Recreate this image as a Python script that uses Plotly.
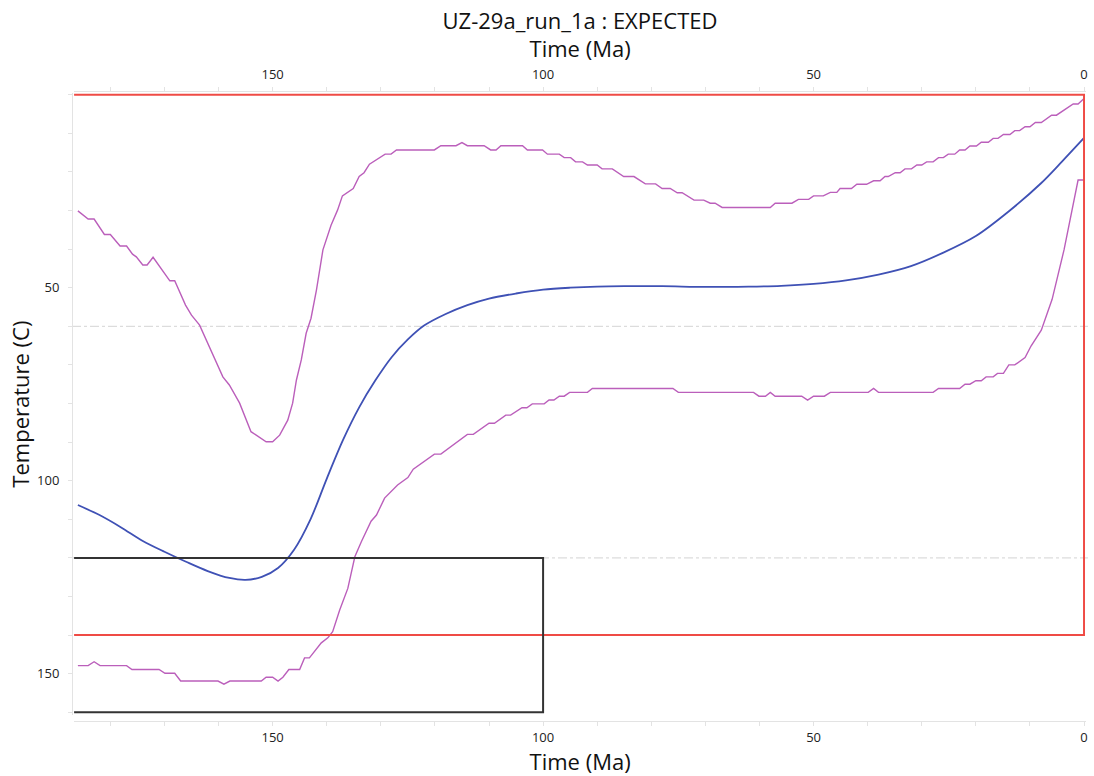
import plotly.graph_objects as go

# ---------------- data ----------------
time_expected = [186, 182, 178, 174, 170, 166, 162, 158, 155, 152,
                 149, 146, 143, 140, 137, 134, 131, 128, 125, 122,
                 118, 114, 110, 105, 100, 95, 90, 85, 78, 70,
                 62, 56, 50, 44, 38, 32, 26, 20, 14, 8, 4, 0]
temp_expected = [106.3, 108.9, 112.1, 115.6, 118.4, 121.0, 123.4, 125.2, 125.7, 124.9,
                 122.6, 117.8, 110.0, 99.5, 89.5, 81.0, 74.0, 68.0, 63.4, 59.8,
                 56.8, 54.5, 52.8, 51.5, 50.5, 50.0, 49.7, 49.6, 49.6, 49.8,
                 49.7, 49.5, 49.0, 48.1, 46.6, 44.4, 40.9, 36.6, 30.3, 23.0, 17.2, 11.2]

time_upper = [186.0, 184.1, 183.0, 181.1, 180.0, 178.9, 178.2, 177.0, 175.9, 175.2,
              174.0, 173.2, 172.1, 169.0, 168.1, 166.1, 165.0, 163.5, 159.2, 158.0,
              156.1, 154.0, 151.2, 150.0, 148.7, 147.2, 146.3, 145.6, 144.7, 143.8,
              142.9, 141.9, 140.7, 139.2, 138.0, 137.1, 135.1, 134.0, 133.1, 132.1,
              129.2, 128.1, 127.1, 120.1, 118.9, 116.1, 115.0, 114.0, 110.9, 109.7,
              108.7, 107.8, 103.8, 102.9, 100.1, 99.2, 97.0, 96.1, 94.9, 94.0,
              92.7, 91.8, 90.0, 89.1, 87.2, 85.1, 83.2, 81.1, 79.2, 78.0,
              76.5, 75.2, 74.3, 72.1, 70.3, 69.1, 68.2, 66.9, 58.0, 57.1,
              54.0, 52.8, 50.9, 50.0, 48.2, 46.9, 45.7, 45.1, 43.0, 42.0,
              40.2, 38.9, 37.7, 36.8, 36.2, 34.9, 34.0, 33.1, 31.9, 30.9,
              30.0, 29.1, 27.9, 26.9, 26.0, 25.1, 23.9, 23.0, 22.0, 21.1,
              19.9, 19.0, 17.7, 16.8, 15.9, 14.9, 13.7, 12.8, 11.9, 10.9,
              10.0, 9.0, 7.9, 6.0, 5.1, 2.0, 1.1, 0.0]
temp_upper = [30.1, 32.2, 32.2, 36.2, 36.2, 38.2, 39.2, 39.2, 41.3, 42.0,
              44.1, 44.1, 42.1, 48.2, 48.2, 54.5, 57.1, 59.7, 73.1, 75.2,
              79.9, 87.3, 89.9, 89.9, 88.2, 84.3, 79.9, 73.9, 68.7, 61.8,
              57.9, 50.6, 40.2, 33.8, 29.9, 26.2, 24.3, 21.2, 20.2, 18.0,
              15.4, 15.4, 14.3, 14.3, 13.2, 13.2, 12.4, 13.2, 13.2, 14.3,
              14.3, 13.2, 13.2, 14.3, 14.3, 15.4, 15.4, 16.3, 16.3, 17.4,
              17.4, 18.2, 18.2, 19.2, 19.2, 21.2, 21.2, 23.1, 23.1, 24.3,
              24.3, 25.4, 25.4, 27.3, 27.3, 28.1, 28.1, 29.2, 29.2, 28.1,
              28.1, 27.1, 27.1, 26.2, 26.2, 25.3, 25.3, 24.3, 24.3, 23.2,
              23.2, 22.3, 22.3, 21.2, 21.2, 20.2, 20.2, 19.2, 19.2, 18.2,
              18.2, 17.4, 17.4, 16.3, 16.3, 15.4, 15.4, 14.3, 14.3, 13.3,
              13.3, 12.3, 12.3, 11.3, 11.3, 10.3, 10.3, 9.3, 9.3, 8.3,
              8.3, 7.2, 7.2, 5.3, 5.3, 2.4, 2.4, 1.0]

time_lower = [186.0, 184.1, 183.0, 181.9, 177.0, 176.0, 171.0, 169.9, 168.1, 167.0,
              160.1, 159.0, 157.9, 152.1, 151.2, 150.0, 149.0, 148.1, 147.0, 145.0,
              144.1, 143.2, 141.0, 139.8, 138.9, 137.6, 136.1, 134.8, 133.6, 131.8,
              130.8, 129.3, 126.9, 125.0, 124.0, 120.1, 118.9, 114.0, 112.9, 110.0,
              109.0, 106.9, 106.0, 103.9, 103.0, 102.0, 99.8, 98.9, 98.0, 97.0,
              96.1, 95.1, 91.8, 90.9, 76.0, 75.0, 61.1, 60.1, 58.9, 58.0,
              57.1, 52.2, 51.1, 50.0, 48.0, 46.9, 39.9, 38.9, 38.0, 27.9,
              26.9, 23.0, 22.0, 21.1, 20.0, 19.0, 18.1, 16.8, 16.0, 14.9,
              13.9, 12.8, 10.9, 9.8, 7.9, 5.9, 3.7, 1.1, 0.0]
temp_lower = [147.9, 147.9, 146.9, 147.9, 147.9, 148.9, 148.9, 149.9, 149.9, 151.9,
              151.9, 152.7, 151.9, 151.9, 150.9, 150.9, 151.9, 150.9, 148.9, 148.9,
              145.9, 145.9, 142.0, 140.7, 139.1, 133.5, 127.9, 119.7, 115.8, 110.5,
              108.9, 104.5, 101.1, 99.2, 97.0, 93.1, 93.1, 88.0, 88.0, 85.1,
              85.1, 83.0, 83.0, 81.1, 81.1, 80.1, 80.1, 79.1, 79.1, 78.1,
              78.1, 77.1, 77.1, 76.1, 76.1, 77.1, 77.1, 78.1, 78.1, 77.1,
              78.1, 78.1, 79.1, 78.1, 78.1, 77.1, 77.1, 76.1, 77.1, 77.1,
              76.1, 76.1, 75.0, 75.0, 74.1, 74.1, 73.1, 73.1, 72.2, 72.2,
              70.0, 70.0, 68.1, 65.1, 61.0, 53.0, 40.2, 22.1, 22.1]

# constraint boxes: (time_old, time_young, temp_low, temp_high)
red_box = [200.0, 0.0, 0.0, 140.0]
black_box = [200.0, 100.0, 120.0, 160.0]

grid_temps = [60, 120]
x_ticks = [0, 50, 100, 150]
y_ticks = [50, 100, 150]

title_text = "UZ-29a_run_1a : EXPECTED"
x_title = "Time (Ma)"
y_title = "Temperature (C)"

# ---------------- styling ----------------
FONT = "Open Sans"
BLUE = "#3f51b5"
PURPLE = "#bb5fbb"
RED = "#ef4b45"
DARK = "#333333"
AXIS = "#e3e3e3"
GRID = "#d4d4d4"

x_range = [186.7, -0.4]
y_range = [160.8, -0.5]

fig = go.Figure()

fig.add_trace(go.Scatter(x=time_upper, y=temp_upper, mode="lines",
                         line=dict(color=PURPLE, width=1.4), showlegend=False,
                         hoverinfo="skip"))
fig.add_trace(go.Scatter(x=time_lower, y=temp_lower, mode="lines",
                         line=dict(color=PURPLE, width=1.4), showlegend=False,
                         hoverinfo="skip"))
fig.add_trace(go.Scatter(x=time_expected, y=temp_expected, mode="lines",
                         line=dict(color=BLUE, width=1.8, shape="spline", smoothing=0.9),
                         showlegend=False, xaxis="x2", hoverinfo="skip"))

shapes = []
for g in grid_temps:
    shapes.append(dict(type="line", xref="paper", x0=0, x1=1, yref="y", y0=g, y1=g,
                       line=dict(color=GRID, width=1, dash="dashdot"), layer="below"))
shapes.append(dict(type="rect", xref="x", yref="y",
                   x0=red_box[0], x1=red_box[1], y0=red_box[2], y1=red_box[3],
                   line=dict(color=RED, width=2)))
shapes.append(dict(type="rect", xref="x", yref="y",
                   x0=black_box[0], x1=black_box[1], y0=black_box[2], y1=black_box[3],
                   line=dict(color=DARK, width=2)))

tickfont = dict(family=FONT, size=13, color="#222222")
titlefont = dict(family=FONT, size=22, color="#111111")

common_x = dict(range=x_range, tickvals=x_ticks, showgrid=False, zeroline=False,
                showline=True, linecolor=AXIS, linewidth=1,
                ticks="outside", ticklen=4, tickcolor=AXIS, tickwidth=1,
                minor=dict(dtick=10, tick0=0, ticks="outside", ticklen=4,
                           tickcolor=AXIS, showgrid=False),
                tickfont=tickfont, domain=[0.00206, 0.99823])

fig.update_layout(
    width=1094, height=776,
    margin=dict(l=72, r=4, t=91, b=55),
    paper_bgcolor="white", plot_bgcolor="white",
    font=dict(family=FONT),
    title=dict(text=title_text, x=0.5, xref="paper", xanchor="center",
               y=1 - 21 / 776, yref="container", yanchor="middle",
               font=dict(family=FONT, size=22, color="#111111")),
    xaxis=dict(**common_x, anchor="free", position=0, side="bottom",
               title=dict(text=x_title, font=titlefont, standoff=0)),
    xaxis2=dict(**common_x, anchor="free", position=1, side="top", overlaying="x",
                ticklabelstandoff=3,
                title=dict(text=x_title, font=titlefont, standoff=0)),
    yaxis=dict(range=y_range, tickvals=y_ticks, showgrid=False, zeroline=False,
               showline=True, linecolor=AXIS, linewidth=1,
               ticks="outside", ticklen=4, tickcolor=AXIS,
               minor=dict(dtick=10, tick0=0, ticks="outside", ticklen=4,
                          tickcolor=AXIS, showgrid=False),
               tickfont=tickfont, anchor="free", position=0,
               ticklabelstandoff=6,
               domain=[0.00889, 0.99714],
               title=dict(text=y_title, font=titlefont, standoff=0)),
    shapes=shapes,
)

fig.write_html("out.html")
